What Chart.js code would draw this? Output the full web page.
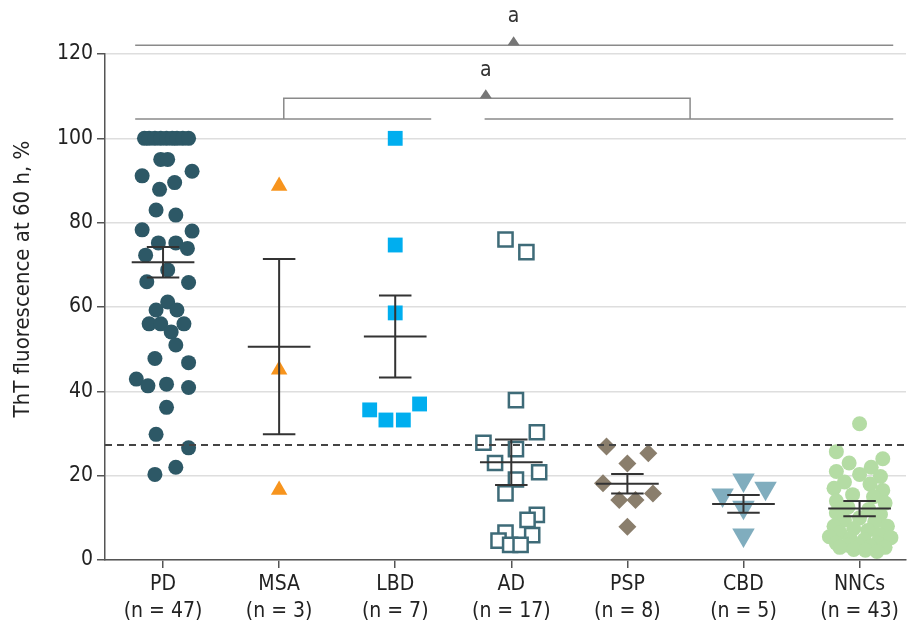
<!DOCTYPE html>
<html>
<head>
<meta charset="utf-8">
<script src="https://cdn.jsdelivr.net/npm/chart.js@4"></script>
<style>
  html, body { margin: 0; padding: 0; background: #fff; }
  #wrap { width: 919px; height: 627px; }
</style>
</head>
<body>
<div id="wrap"><canvas id="chart" width="919" height="627"></canvas></div>
<script>
// groups along the x axis
const groups = ['PD', 'MSA', 'LBD', 'AD', 'PSP', 'CBD', 'NNCs']
const groupN = [47, 3, 7, 17, 8, 5, 43]
const yTicks = [0, 20, 40, 60, 80, 100, 120]

// points: x is offset from group centre (in group widths), y is ThT %
const pdX = [-0.16, -0.12, -0.07, -0.02, 0.03, 0.08, 0.12, 0.17, 0.22, -0.02, 0.04, -0.18, 0.25, -0.03, 0.10, -0.06, 0.11, -0.18, 0.25, -0.04, 0.11, 0.21, -0.15, 0.04, -0.14, 0.22, 0.04, -0.06, 0.12, -0.12, -0.02, 0.18, 0.07, 0.11, -0.07, 0.22, -0.23, -0.13, 0.03, 0.22, 0.03, -0.06, 0.22, 0.11, -0.07]
const pdY = [100, 100, 100, 100, 100, 100, 100, 100, 100, 95, 95, 91.1, 92.2, 87.9, 89.5, 83.0, 81.8, 78.3, 78.0, 75.2, 75.2, 73.9, 72.3, 68.8, 66.0, 65.8, 61.2, 59.3, 59.3, 56.0, 56.0, 56.0, 54.1, 51.0, 47.8, 46.8, 42.9, 41.3, 41.7, 40.9, 36.2, 29.8, 26.6, 22.0, 20.3]
const msaX = [0, 0, 0]
const msaY = [88.7, 45.1, 16.6]
const lbdX = [0, 0, 0, -0.22, -0.08, 0.07, 0.21]
const lbdY = [100, 74.7, 58.6, 35.6, 33.2, 33.2, 37.0]
const adX = [-0.05, 0.13, 0.04, 0.22, -0.24, 0.04, -0.14, 0.24, 0.04, -0.05, 0.22, 0.14, -0.05, -0.11, 0.18, -0.01, 0.08]
const adY = [76.0, 73.0, 37.9, 30.3, 27.8, 26.3, 23.0, 20.8, 19.1, 15.8, 10.7, 9.5, 6.5, 4.6, 5.9, 3.6, 3.6]
const pspX = [-0.18, 0.18, 0, -0.21, 0.22, -0.07, 0.07, 0]
const pspY = [26.9, 25.3, 22.9, 18.2, 15.8, 14.2, 14.2, 7.9]
const cbdX = [0, 0.19, -0.18, 0, 0]
const cbdY = [19.0, 17.0, 15.4, 12.5, 5.9]
const nncX = [0, -0.2, 0.2, -0.09, 0.1, -0.2, 0, 0.18, -0.13, 0.09, -0.22, 0.2, -0.06, 0.12, -0.2, 0.22, -0.1, 0.08, -0.2, 0.18, 0, -0.13, 0.13, -0.22, 0.24, -0.05, 0.07, -0.17, 0.17, -0.26, 0.27, -0.08, 0.04, -0.2, 0.15, -0.1, 0, 0.09, -0.17, 0.22, -0.05, 0.05, 0.15]
const nncY = [32.3, 25.7, 24.0, 23.0, 22.0, 21.0, 20.3, 19.8, 18.5, 18.0, 17.0, 16.5, 15.5, 15.0, 14.0, 13.5, 12.5, 12.0, 11.2, 10.8, 10.0, 9.5, 9.0, 8.0, 8.0, 7.5, 7.0, 6.5, 6.0, 5.5, 5.3, 5.0, 4.8, 4.0, 4.0, 3.5, 3.3, 3.2, 3.0, 3.0, 2.5, 2.3, 2.0]

// mean and SEM per group
const means = [70.6, 50.6, 53.0, 23.2, 18.1, 13.3, 12.2]
const sems = [3.6, 20.8, 9.7, 5.4, 2.3, 2.1, 1.8]
const threshold = 27.3

const font = "'Liberation Sans Narrow', 'DejaVu Sans Condensed', 'Open Sans', sans-serif"

function pts(i, xs, ys) {
    return ys.map((v, k) => ({ x: i + xs[k], y: v }))
}

function makeSet(i, xs, ys, style) {
    return Object.assign({
        data: pts(i, xs, ys),
        borderWidth: 0,
        pointHoverRadius: 0
    }, style)
}

const datasets = [
    makeSet(0, pdX, pdY, { pointStyle: 'circle', pointRadius: 7.5, backgroundColor: '#2d5866', borderColor: '#2d5866' }),
    makeSet(1, msaX, msaY, { pointStyle: 'triangle', pointRadius: 9.5, backgroundColor: '#f7941d', borderColor: '#f7941d' }),
    makeSet(2, lbdX, lbdY, { pointStyle: 'rect', pointRadius: 10.5, backgroundColor: '#00aeef', borderColor: '#00aeef' }),
    makeSet(3, adX, adY, { pointStyle: 'rect', pointRadius: 10, backgroundColor: '#ffffff', borderColor: '#3e6b78', borderWidth: 2.5 }),
    makeSet(4, pspX, pspY, { pointStyle: 'rectRot', pointRadius: 9, backgroundColor: '#8a7e6c', borderColor: '#8a7e6c' }),
    makeSet(5, cbdX, cbdY, { pointStyle: 'triangle', rotation: 180, pointRadius: 13, backgroundColor: '#80adbe', borderColor: '#80adbe' }),
    makeSet(6, nncX, nncY, { pointStyle: 'circle', pointRadius: 7.5, backgroundColor: '#b4dca4', borderColor: '#b4dca4' })
]

const overlay = {
    id: 'overlay',
    afterDatasetsDraw(chart) {
        const { ctx, chartArea } = chart
        const x = chart.scales.x
        const y = chart.scales.y
        const ux = x.getPixelForValue(1) - x.getPixelForValue(0)
        ctx.save()

        // threshold line
        let ty = y.getPixelForValue(threshold)
        ctx.strokeStyle = '#444'
        ctx.lineWidth = 2
        ctx.setLineDash([7, 5])
        ctx.beginPath()
        ctx.moveTo(chartArea.left, ty)
        ctx.lineTo(chartArea.right, ty)
        ctx.stroke()
        ctx.setLineDash([])

        // mean +- SEM
        ctx.strokeStyle = '#333'
        ctx.lineWidth = 2
        for (let i = 0; i < means.length; i++) {
            let cx = x.getPixelForValue(i)
            let ym = y.getPixelForValue(means[i])
            let yt = y.getPixelForValue(means[i] + sems[i])
            let yb = y.getPixelForValue(means[i] - sems[i])
            ctx.beginPath()
            ctx.moveTo(cx - 0.27 * ux, ym); ctx.lineTo(cx + 0.27 * ux, ym)
            ctx.moveTo(cx, yt); ctx.lineTo(cx, yb)
            ctx.moveTo(cx - 0.14 * ux, yt); ctx.lineTo(cx + 0.14 * ux, yt)
            ctx.moveTo(cx - 0.14 * ux, yb); ctx.lineTo(cx + 0.14 * ux, yb)
            ctx.stroke()
        }

        // significance brackets
        const px = v => x.getPixelForValue(v)
        const py = v => y.getPixelForValue(v)
        ctx.strokeStyle = '#8a8a8a'
        ctx.lineWidth = 1.5
        ctx.beginPath()
        ctx.moveTo(px(-0.24), py(122.1)); ctx.lineTo(px(6.29), py(122.1))
        ctx.moveTo(px(-0.24), py(104.6)); ctx.lineTo(px(2.31), py(104.6))
        ctx.moveTo(px(2.77), py(104.6)); ctx.lineTo(px(6.29), py(104.6))
        ctx.moveTo(px(1.04), py(104.6)); ctx.lineTo(px(1.04), py(109.5))
        ctx.lineTo(px(4.54), py(109.5)); ctx.lineTo(px(4.54), py(104.6))
        ctx.stroke()

        ctx.fillStyle = '#777'
        const tri = (cx, by) => {
            ctx.beginPath()
            ctx.moveTo(cx - 6, by); ctx.lineTo(cx + 6, by); ctx.lineTo(cx, by - 9)
            ctx.closePath(); ctx.fill()
        }
        tri(px(3.02), py(122.1))
        tri(px(2.78), py(109.5))

        ctx.fillStyle = '#333'
        ctx.font = '21px ' + font
        ctx.textAlign = 'center'
        ctx.textBaseline = 'middle'
        ctx.fillText('a', px(3.02), 17)
        ctx.fillText('a', px(2.78), 71)

        // y axis title
        ctx.translate(23, 279)
        ctx.rotate(-Math.PI / 2)
        ctx.font = '22px ' + font
        ctx.fillStyle = '#222'
        ctx.fillText('ThT fluorescence at 60 h, %', 0, 0)
        ctx.restore()
    }
}

new Chart(document.getElementById('chart').getContext('2d'), {
    type: 'scatter',
    data: { datasets },
    options: {
        responsive: false,
        animation: false,
        events: [],
        layout: { padding: { top: 54, right: 9, left: 0, bottom: 0 } },
        plugins: { legend: { display: false }, tooltip: { enabled: false } },
        scales: {
            x: {
                type: 'linear',
                min: -0.5,
                max: 6.4,
                afterBuildTicks: s => { s.ticks = groups.map((g, i) => ({ value: i })) },
                afterFit: s => { s.height = 67 },
                border: { color: '#555', width: 1.5 },
                grid: { drawOnChartArea: false, tickLength: 8, tickColor: '#555', lineWidth: 1.5 },
                ticks: {
                    padding: 3,
                    color: '#222',
                    font: { family: font, size: 21, lineHeight: 1.3 },
                    callback: v => [groups[v], '(n = ' + groupN[v] + ')']
                }
            },
            y: {
                min: 0,
                max: 120,
                afterBuildTicks: s => { s.ticks = yTicks.map(v => ({ value: v })) },
                afterFit: s => { s.width = 105 },
                border: { color: '#555', width: 1.5 },
                grid: { color: '#dedede', lineWidth: 1.5, tickLength: 8, tickColor: '#555' },
                ticks: {
                    padding: 4,
                    color: '#222',
                    font: { family: font, size: 21 }
                }
            }
        }
    },
    plugins: [overlay]
})
</script>
</body>
</html>
